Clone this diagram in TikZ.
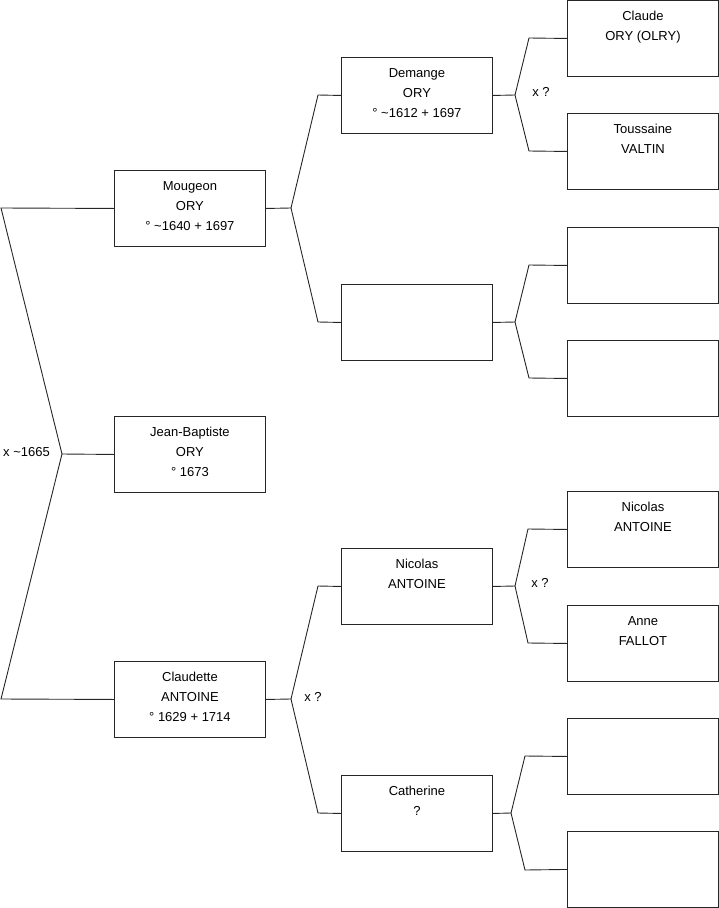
\documentclass[tikz,border=0pt]{standalone}
\usepackage{fontspec}
\setmainfont{Liberation Sans}
\newcommand{\ptext}[1]{\parbox[c][76pt][t]{151pt}{\centering\fontsize{13}{20}\selectfont\rule{0pt}{20.5pt}#1}}
\begin{document}
\begin{tikzpicture}[x=1pt,y=-1pt,
  person/.style={draw=black!85, line width=0.9pt, inner sep=0pt, anchor=north west, minimum width=151pt, minimum height=76pt},
  link/.style={draw=black!85, line width=0.9pt},
  lbl/.style={font=\fontsize{13}{15}\selectfont, inner sep=0pt}]
\useasboundingbox (0,0) rectangle (719,908);
% generation 1
\node[person] (mou) at (114,170) {\ptext{Mougeon\\ORY\\° \textasciitilde1640 + 1697}};
\node[person] (jb)  at (114,416) {\ptext{Jean-Baptiste\\ORY\\° 1673}};
\node[person] (cla) at (114,661) {\ptext{Claudette\\ANTOINE\\° 1629 + 1714}};
% generation 2
\node[person] (dem) at (341,57)  {\ptext{Demange\\ORY\\° \textasciitilde1612 + 1697}};
\node[person] (e2)  at (341,284) {\ptext{}};
\node[person] (nic) at (341,548) {\ptext{Nicolas\\ANTOINE}};
\node[person] (cat) at (341,775) {\ptext{Catherine\\?}};
% generation 3
\node[person] (cl)  at (567,0)   {\ptext{Claude\\ORY (OLRY)}};
\node[person] (tou) at (567,113) {\ptext{Toussaine\\VALTIN}};
\node[person] (e3a) at (567,227) {\ptext{}};
\node[person] (e3b) at (567,340) {\ptext{}};
\node[person] (nic2) at (567,491) {\ptext{Nicolas\\ANTOINE}};
\node[person] (ann) at (567,605) {\ptext{Anne\\FALLOT}};
\node[person] (e3c) at (567,718) {\ptext{}};
\node[person] (e3d) at (567,831) {\ptext{}};
% root connectors
\coordinate (a0) at (1,208);
\coordinate (j0) at (62,454);
\coordinate (b0) at (1,699);
\draw[link] (mou.west) -- (a0) -- (j0) -- (jb.west);
\draw[link] (j0) -- (b0) -- (cla.west);
\node[lbl, anchor=west] (m0) at (3,452) {x \textasciitilde1665};
% Mougeon -> parents
\coordinate (j1) at (291,208);
\coordinate (j1a) at (318,95);
\coordinate (j1b) at (318,322);
\draw[link] (mou.east) -- (j1) -- (j1a) -- (dem.west);
\draw[link] (j1) -- (j1b) -- (e2.west);
% Claudette -> parents
\coordinate (j2) at (291,699);
\coordinate (j2a) at (318,586);
\coordinate (j2b) at (318,813);
\draw[link] (cla.east) -- (j2) -- (j2a) -- (nic.west);
\draw[link] (j2) -- (j2b) -- (cat.west);
\node[lbl] (m2) at (313,697) {x ?};
% Demange -> parents
\coordinate (j3) at (515,95);
\coordinate (j3a) at (529,38);
\coordinate (j3b) at (529,151);
\draw[link] (dem.east) -- (j3) -- (j3a) -- (cl.west);
\draw[link] (j3) -- (j3b) -- (tou.west);
\node[lbl] (m3) at (541,92) {x ?};
% empty -> parents
\coordinate (j4) at (515,322);
\coordinate (j4a) at (529,265);
\coordinate (j4b) at (529,378);
\draw[link] (e2.east) -- (j4) -- (j4a) -- (e3a.west);
\draw[link] (j4) -- (j4b) -- (e3b.west);
% Nicolas -> parents
\coordinate (j5) at (515,586);
\coordinate (j5a) at (528,529);
\coordinate (j5b) at (528,643);
\draw[link] (nic.east) -- (j5) -- (j5a) -- (nic2.west);
\draw[link] (j5) -- (j5b) -- (ann.west);
\node[lbl] (m5) at (540,583) {x ?};
% Catherine -> parents
\coordinate (j6) at (511,813);
\coordinate (j6a) at (525,756);
\coordinate (j6b) at (525,870);
\draw[link] (cat.east) -- (j6) -- (j6a) -- (e3c.west);
\draw[link] (j6) -- (j6b) -- (e3d.west);
\end{tikzpicture}
\end{document}
